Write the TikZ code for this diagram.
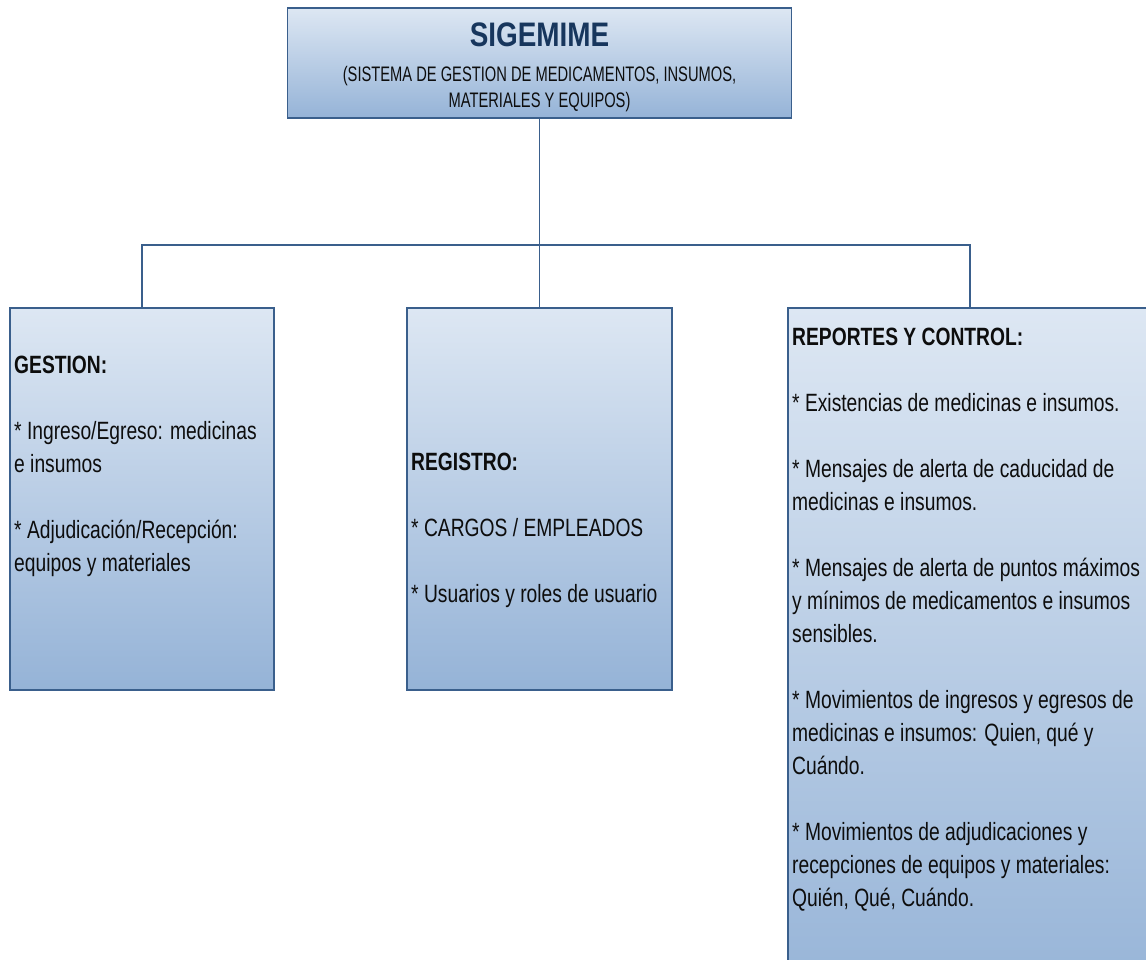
\documentclass[tikz,border=0pt]{standalone}
\usepackage{fontspec}
\setmainfont[FakeStretch=0.77]{Liberation Sans}
\newfontfamily\titlefont[FakeStretch=0.82]{Liberation Sans}
\newfontfamily\subfont[FakeStretch=0.70]{Liberation Sans}
\definecolor{boxtop}{RGB}{221,231,243}
\definecolor{boxbottom}{RGB}{149,179,215}
\definecolor{boxline}{RGB}{58,95,140}
\definecolor{titleblue}{RGB}{23,54,93}
\definecolor{txtblack}{RGB}{13,13,13}
\tikzset{
  boxnode/.style={draw=boxline, line width=1.6pt, top color=boxtop, bottom color=boxbottom, inner sep=0pt},
  link/.style={draw=boxline, line width=1.2pt},
  txt/.style={anchor=north west, align=left, inner sep=0pt, text=txtblack, font=\fontsize{25}{33}\selectfont}
}
\begin{document}
\begin{tikzpicture}[x=1pt,y=-1pt]
        \useasboundingbox (0,0) rectangle (1146,959);
        % boxes
        \node[boxnode, minimum width=504pt, minimum height=110pt] (sigemime) at (539.5,63) {};
        \node[boxnode, minimum width=264pt, minimum height=382pt] (gestion) at (142,499) {};
        \node[boxnode, minimum width=265pt, minimum height=382pt] (registro) at (539.5,499) {};
        \node[boxnode, minimum width=364pt, minimum height=702pt] (reportes) at (970,659) {};
        % title
        \node[anchor=base, inner sep=0pt, text=titleblue, font=\titlefont\bfseries\fontsize{34}{34}\selectfont] (titulo) at (539.5,46) {SIGEMIME};
        \node[align=center, inner sep=0pt, text=txtblack, font=\subfont\fontsize{21}{26}\selectfont] (subtitulo) at (539.5,89)
          {(SISTEMA DE GESTION DE MEDICAMENTOS, INSUMOS,\\ MATERIALES Y EQUIPOS)};
        % texts
        \node[txt] (gestiontxt) at (14,355.5) {\textbf{GESTION:}\\[33pt]
          * Ingreso/Egreso: medicinas\\ e insumos\\[33pt]
          * Adjudicación/Recepción:\\ equipos y materiales};
        \node[txt] (registrotxt) at (411,452.5) {\textbf{REGISTRO:}\\[33pt]
          * CARGOS / EMPLEADOS\\[33pt]
          * Usuarios y roles de usuario};
        \node[txt] (reportestxt) at (792,327.5) {\textbf{REPORTES Y CONTROL:}\\[33pt]
          * Existencias de medicinas e insumos.\\[33pt]
          * Mensajes de alerta de caducidad de\\ medicinas e insumos.\\[33pt]
          * Mensajes de alerta de puntos máximos\\ y mínimos de medicamentos e insumos\\ sensibles.\\[33pt]
          * Movimientos de ingresos y egresos de\\ medicinas e insumos: Quien, qué y\\ Cuándo.\\[33pt]
          * Movimientos de adjudicaciones y\\ recepciones de equipos y materiales:\\ Quién, Qué, Cuándo.};
        % connectors
        \coordinate (bus) at (539.5,245);
        \draw[link] (sigemime.south) -- (bus);
        \draw[link] (registro.north) -- (bus);
        \draw[link] (gestion.north) |- (bus) -| (reportes.north);
\end{tikzpicture}
\end{document}
